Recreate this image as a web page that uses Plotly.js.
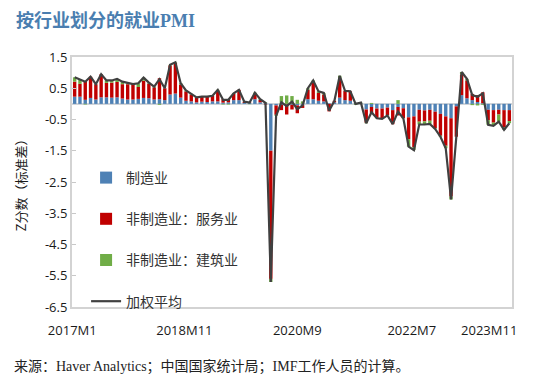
<!DOCTYPE html>
<html><head><meta charset="utf-8">
<script src="https://cdn.plot.ly/plotly-3.0.1.min.js"></script>
<style>html,body{margin:0;padding:0;background:#fff}#chart{width:540px;height:392px}</style>
</head><body><div id="chart"></div>
<script>
// Categories: 2017M1 .. 2023M11
const months = [];
for (let y = 2017; y <= 2023; y++) {
  for (let m = 1; m <= 12; m++) {
    if (y === 2023 && m > 11) break;
    months.push(y + 'M' + m);
  }
}

// 制造业
const manufacturing = [
  0.23,0.23,0.13,0.19,0.14,0.21,0.21,0.20,0.21,0.17,0.14,0.14,
  0.16,0.19,0.18,0.14,0.15,0.12,0.30,0.33,0.20,0.10,0.08,0.05,
  0.07,0.06,0.08,0.08,0.04,0.05,0.12,0.12,0.03,0.03,0.15,0.05,
  0.03,-1.50,-0.05,-0.03,-0.02,-0.03,-0.05,-0.04,0.15,0.15,0.10,0.08,
  0.02,0.05,0.20,0.12,0.10,0.03,0.02,-0.18,-0.10,-0.15,-0.15,-0.12,
  -0.20,-0.10,-0.14,-0.43,-0.40,-0.19,-0.21,-0.19,-0.25,-0.32,-0.40,-0.46,
  -0.08,0.28,0.18,0.12,0.06,0.02,-0.19,-0.20,-0.19,-0.20,-0.20
];
// 非制造业：服务业
const services = [
  0.48,0.41,0.60,0.68,0.49,0.74,0.46,0.48,0.49,0.46,0.49,0.47,
  0.38,0.55,0.47,0.39,0.67,0.38,0.93,0.98,0.42,0.30,0.22,0.16,
  0.16,0.17,0.18,0.34,0.11,0.10,0.20,0.33,0.04,0.02,0.17,0.08,
  -0.02,-4.10,-0.30,-0.17,-0.32,-0.15,-0.25,-0.09,0.30,0.52,0.25,0.22,
  -0.24,0.05,0.60,0.30,0.30,0.00,0.00,-0.42,-0.20,-0.30,-0.33,-0.25,
  -0.45,-0.27,-0.32,-0.70,-0.98,-0.38,-0.35,-0.35,-0.53,-0.70,-0.94,-2.50,
  -0.97,0.66,0.57,0.20,0.22,0.35,-0.33,-0.40,-0.15,-0.55,-0.35
];
// 非制造业：建筑业
const construction = [
  0.14,0.15,-0.02,0.00,0.00,0.00,0.08,0.07,0.10,0.08,0.03,0.02,
  0.12,0.10,0.03,0.02,-0.03,0.00,0.02,0.02,0.04,0.03,0.02,0.00,
  0.00,0.00,0.00,0.03,-0.02,-0.02,0.02,0.00,0.00,-0.01,0.04,0.02,
  0.02,-0.10,-0.03,0.25,0.27,0.25,0.13,0.08,0.05,0.08,0.05,0.05,
  0.00,0.00,0.10,0.00,0.00,-0.03,0.02,-0.02,0.03,-0.01,0.00,0.00,
  0.00,0.12,0.00,-0.24,-0.10,-0.09,-0.10,-0.10,-0.02,-0.03,-0.08,-0.10,
  0.00,0.08,0.05,-0.04,-0.05,-0.03,-0.15,-0.10,-0.23,-0.08,-0.07
];
// 加权平均
const weightedAvg = [
  0.85,0.79,0.71,0.87,0.63,0.95,0.75,0.75,0.80,0.71,0.66,0.63,
  0.66,0.84,0.68,0.55,0.79,0.50,1.25,1.33,0.66,0.43,0.32,0.21,
  0.23,0.23,0.26,0.45,0.13,0.13,0.34,0.45,0.07,0.04,0.36,0.15,
  0.03,-5.70,-0.38,0.05,-0.07,0.07,-0.17,-0.05,0.50,0.75,0.40,0.35,
  -0.22,0.10,0.90,0.42,0.40,0.00,0.04,-0.62,-0.27,-0.46,-0.48,-0.37,
  -0.65,-0.25,-0.46,-1.37,-1.48,-0.66,-0.66,-0.64,-0.80,-1.05,-1.42,-3.06,
  -1.05,1.02,0.80,0.28,0.23,0.34,-0.67,-0.70,-0.57,-0.83,-0.62
];

const seriesNames = ['制造业', '非制造业：服务业', '非制造业：建筑业', '加权平均'];
const xTickLabels = ['2017M1', '2018M11', '2020M9', '2022M7', '2023M11'];
const yTickVals = [1.5, 0.5, -0.5, -1.5, -2.5, -3.5, -4.5, -5.5, -6.5];
const yTickText = ['1.5', '0.5', '-0.5', '-1.5', '-2.5', '-3.5', '-4.5', '-5.5', '-6.5'];

const CJK = "'Noto Sans CJK SC', sans-serif";
const SERIF = "'Liberation Serif', 'Noto Sans CJK SC', serif";
const SANS = "'Open Sans', 'Noto Sans CJK SC', sans-serif";

const traces = [
  {type: 'bar', x: months, y: manufacturing, name: seriesNames[0],
   marker: {color: '#4E81B5'}, legendgroup: 'a'},
  {type: 'bar', x: months, y: services, name: seriesNames[1],
   marker: {color: '#C00000'}, legendgroup: 'b'},
  {type: 'bar', x: months, y: construction, name: seriesNames[2],
   marker: {color: '#70AD47'}, legendgroup: 'c'},
  {type: 'scatter', mode: 'lines', x: months, y: weightedAvg, name: seriesNames[3],
   line: {color: '#404040', width: 2.2}, legendgroup: 'd'}
];

const layout = {
  width: 540, height: 392,
  margin: {l: 72, r: 28, t: 57, b: 85},
  paper_bgcolor: '#fff', plot_bgcolor: '#fff',
  barmode: 'relative', bargap: 0.36,
  showlegend: true,
  title: {
    text: '<b>按行业划分的就业PMI</b>',
    xref: 'container', yref: 'container',
    x: 16 / 540, xanchor: 'left',
    y: 1 - 21 / 392, yanchor: 'middle',
    font: {family: SERIF, size: 18, color: '#4A7EB0'}
  },
  xaxis: {
    type: 'category',
    range: [-0.5, months.length - 0.5],
    tickmode: 'array',
    tickvals: [-0.45, 20.7, 42, 63.6, 78.2],
    ticktext: xTickLabels,
    ticks: '',
    ticklabelstandoff: 10,
    tickfont: {family: SANS, size: 13, color: '#1a1a1a'},
    showgrid: false, zeroline: false,
    showline: true, mirror: true, linecolor: '#D3D3D3', linewidth: 2
  },
  yaxis: {
    range: [-6.5, 1.5],
    tickmode: 'array', tickvals: yTickVals, ticktext: yTickText,
    ticks: 'inside', ticklen: 4, tickcolor: '#C8C8C8', tickwidth: 1,
    tickfont: {family: SANS, size: 13, color: '#1a1a1a'},
    showgrid: false,
    zeroline: true, zerolinecolor: '#D0D4D9', zerolinewidth: 2,
    showline: true, mirror: true, linecolor: '#D3D3D3', linewidth: 2,
    title: {text: 'Z分数（标准差）', standoff: 15,
            font: {family: CJK, size: 13, color: '#1a1a1a'}}
  },
  legend: {
    x: 0.032, xanchor: 'left', y: 0.58, yanchor: 'top',
    bgcolor: 'rgba(0,0,0,0)',
    traceorder: 'grouped', tracegroupgap: 20,
    font: {family: CJK, size: 14, color: '#333'}
  },
  annotations: [{
    xref: 'paper', yref: 'paper',
    x: -60 / 440, xanchor: 'left',
    y: -59 / 250, yanchor: 'middle',
    showarrow: false,
    text: '来源：Haver Analytics；中国国家统计局；IMF工作人员的计算。',
    font: {family: SERIF, size: 14, color: '#222'}
  }]
};

Plotly.newPlot('chart', traces, layout, {displayModeBar: false, staticPlot: true});
</script>
</body></html>
